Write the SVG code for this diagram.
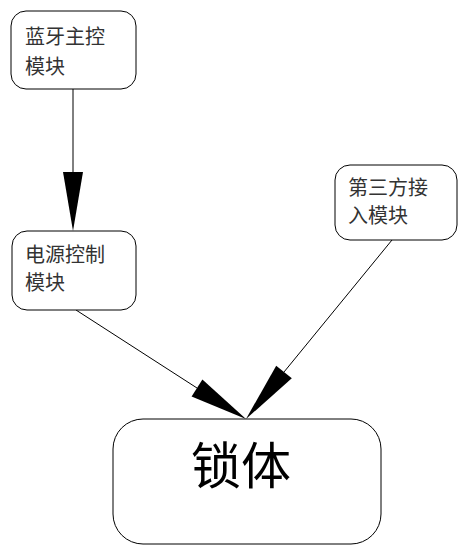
<svg xmlns="http://www.w3.org/2000/svg" width="474" height="556" viewBox="0 0 474 556">
<style>
.box{fill:#fff;stroke:#000;stroke-width:1}
.t{font-family:"Noto Sans CJK SC","Noto Sans",sans-serif;font-size:20px;fill:#333}
.big{font-family:"Noto Sans CJK SC","Noto Sans",sans-serif;font-size:50px;fill:#000}
.ln{stroke:#000;stroke-width:1;fill:none}
.ah{fill:#000;stroke:none}
</style>
<rect width="474" height="556" fill="#fff"/>
<g id="connectors">
<line class="ln" x1="73" y1="89" x2="73" y2="172"/>
<polygon class="ah" points="63,172 83,172 73,231"/>
<line class="ln" x1="76" y1="310" x2="197" y2="388"/>
<polygon class="ah" points="191.6,396.4 202.4,379.6 246,419"/>
<line class="ln" x1="392" y1="240" x2="284" y2="372"/>
<polygon class="ah" points="291.8,378.3 276.2,365.7 246,419"/>
</g>
<g id="bluetooth">
<rect class="box" x="11" y="11" width="125" height="78" rx="15"/>
<text class="t" x="25" y="44">蓝牙主控</text>
<text class="t" x="25" y="74">模块</text>
</g>
<g id="power">
<rect class="box" x="12" y="231" width="124" height="79" rx="15"/>
<text class="t" x="25" y="262">电源控制</text>
<text class="t" x="25" y="290">模块</text>
</g>
<g id="thirdparty">
<rect class="box" x="335" y="165" width="122" height="75" rx="15"/>
<text class="t" x="348" y="195">第三方接</text>
<text class="t" x="348" y="223">入模块</text>
</g>
<g id="lock">
<rect class="box" x="113" y="419" width="268" height="125" rx="30"/>
<text class="big" x="191" y="484">锁体</text>
</g>
</svg>
